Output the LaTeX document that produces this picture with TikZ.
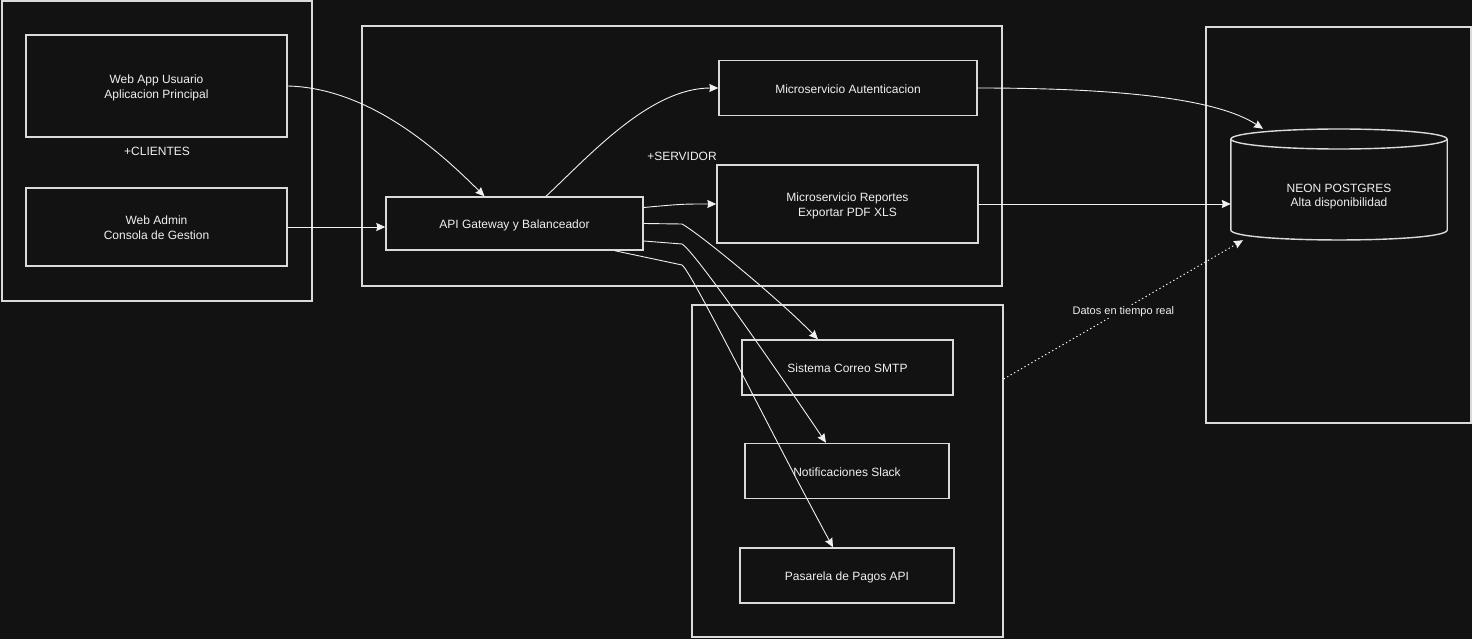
\documentclass[tikz,border=0pt]{standalone}
\usepackage{fontspec}
\setmainfont{Liberation Sans}
\usetikzlibrary{arrows.meta,calc}

\definecolor{canvas}{HTML}{121212}
\definecolor{ink}{HTML}{F0F0F0}
\definecolor{frame}{HTML}{DADADA}

% fixed first-line height and last-line depth, so every label sits the same way in its box
\newcommand{\toprule}{\rule{0pt}{13.5pt}}
\newcommand{\botrule}{\rule[-3pt]{0pt}{0pt}}

\begin{document}
\begin{tikzpicture}[x=1pt,y=-1pt,
  every node/.style={text=ink, font=\fontsize{12}{14.5}\selectfont, align=center, inner sep=0pt},
  group/.style={draw=frame, line width=1.4pt},
  box/.style={draw=frame, line width=1.4pt, fill=canvas},
  link/.style={draw=ink, line width=0.9pt, -{Stealth[length=9pt,width=8pt,inset=1pt]}},
  feed/.style={draw=ink, line width=1pt, dash pattern=on 1.3pt off 2.7pt,
               -{Stealth[length=9pt,width=8pt,inset=1pt]}},
]
% canvas
\fill[canvas] (0,0) rectangle (1472,639);
\useasboundingbox (0,0) rectangle (1472,639);

% groups
\node[group, minimum width=310pt, minimum height=300pt] (clients) at (157,151) {+CLIENTES};
\node[group, minimum width=640pt, minimum height=260pt] (server) at (682,156) {+SERVIDOR};
\node[group, minimum width=311pt, minimum height=332pt] (integ) at (847.5,471) {};
\node[group, minimum width=265pt, minimum height=396pt] (store) at (1338.5,225) {};

% clients
\node[box, minimum width=261pt, minimum height=102pt] (webapp) at (156.5,86) {\toprule Web App Usuario\\Aplicacion Principal\botrule};
\node[box, minimum width=261pt, minimum height=78pt] (webadmin) at (156.5,227) {\toprule Web Admin\\Consola de Gestion\botrule};

% server
\node[box, minimum width=257pt, minimum height=53pt] (gw) at (514.5,223.5) {\toprule API Gateway y Balanceador\botrule};
\node[box, minimum width=258pt, minimum height=55pt] (auth) at (848,88) {\toprule Microservicio Autenticacion\botrule};
\node[box, minimum width=261pt, minimum height=78pt] (rep) at (847.5,204) {\toprule Microservicio Reportes\\Exportar PDF XLS\botrule};

% integrations
\node[box, minimum width=211pt, minimum height=55pt] (smtp) at (847.5,367.5) {\toprule Sistema Correo SMTP\botrule};
\node[box, minimum width=204pt, minimum height=55pt] (slack) at (847,471) {\toprule Notificaciones Slack\botrule};
\node[box, minimum width=214pt, minimum height=55pt] (pago) at (847,575.5) {\toprule Pasarela de Pagos API\botrule};

% database cylinder
\node[minimum width=216pt, minimum height=111pt] (db) at (1339,184.5) {};
\filldraw[draw=frame, line width=1.4pt, fill=canvas]
  (db.north west |- 0,139) -- (db.north west |- 0,230)
  .. controls ($(db.north west |- 0,230)+(0,-13.3pt)$) and ($(db.north east |- 0,230)+(0,-13.3pt)$) .. (db.north east |- 0,230)
  -- (db.north east |- 0,139);
\filldraw[draw=frame, line width=1.4pt, fill=canvas] (1339,139) ellipse [x radius=108pt, y radius=10pt];
\node (dbtext) at (1339,194.5) {\toprule NEON POSTGRES\\Alta disponibilidad\botrule};

% connectors
\draw[link] (webapp.east) .. controls (370,88) and (440,152) .. ([xshift=-30pt]gw.north);
\draw[link] (webadmin.east) -- (gw.west |- webadmin.east);
\draw[link] ([xshift=31.5pt]gw.north) .. controls (590,155) and (650,88) .. (auth.west);
\draw[link] ([yshift=16pt]gw.east) .. controls (682,204) .. (rep.west);
\draw[link] (gw.east) -- (682,224) .. controls (700,234) and (780,300) .. ([xshift=-29.5pt]smtp.north);
\draw[link] ([yshift=-17.5pt]gw.east) -- (682,244) .. controls (695,252) and (770,360) .. ([xshift=-21pt]slack.north);
\draw[link] ([xshift=-29pt]gw.south east) -- (682,265) .. controls (692,272) and (772,435) .. ([xshift=-14pt]pago.north);
\draw[link] (auth.east) .. controls (1150,88) and (1225,104) .. ([xshift=-76pt]db.north);
\draw[link] (rep.east) -- (rep.east -| db.west);
\draw[feed] ([yshift=92pt]integ.east) -- node[fill=canvas, inner sep=1.5pt, font=\fontsize{11}{13}\selectfont, yshift=-2pt] (feedlabel) {Datos en tiempo real} ([xshift=-96pt]db.south);
\end{tikzpicture}
\end{document}
